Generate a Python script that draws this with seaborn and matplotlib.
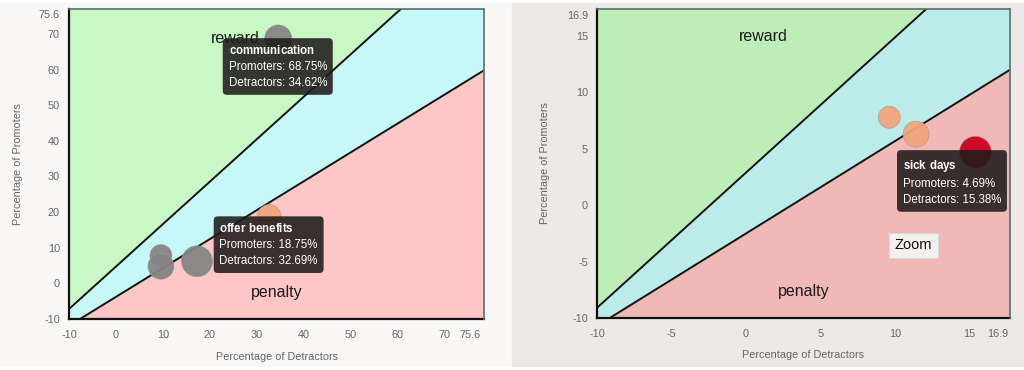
import numpy as np
import pandas as pd
import matplotlib.pyplot as plt
import seaborn as sns
from matplotlib.patches import Rectangle

# ---- data: left view (all topics) ----
left_names = ["communication", "offer benefits", "", "", ""]
left_detractors = [34.62, 32.69, 9.6, 9.6, 17.3]
left_promoters = [68.75, 18.75, 7.8, 4.8, 6.2]
left_bubble = [13.5, 12, 11, 13, 15.5]
left_state = ["other", "hover", "other", "other", "other"]
left_tips = [0, 1]
left_upper = (1.19, 4.7)     # slope, intercept of reward boundary
left_lower = (0.81, -3.8)    # slope, intercept of penalty boundary
left_xticks = [-10, 0, 10, 20, 30, 40, 50, 60, 70, 75.6]
left_yticks = [-10, 0, 10, 20, 30, 40, 50, 60, 70, 75.6]

# ---- data: right view (zoomed) ----
right_names = ["", "", "sick days"]
right_detractors = [9.6, 11.4, 15.38]
right_promoters = [7.8, 6.3, 4.69]
right_bubble = [11, 13, 16]
right_state = ["hover", "hover", "active"]
right_tips = [2]
right_upper = (1.2, 2.9)
right_lower = (0.82, -2.5)
right_xticks = [-10, -5, 0, 5, 10, 15, 16.9]
right_yticks = [-10, -5, 0, 5, 10, 15, 16.9]

sns.set_theme(style="white")
plt.rcParams['font.family'] = ['Liberation Sans', 'DejaVu Sans']
plt.rcParams['mathtext.fontset'] = 'custom'
plt.rcParams['mathtext.rm'] = 'Liberation Sans'
plt.rcParams['mathtext.bf'] = 'Liberation Sans:bold'

palette = {"other": "#858585", "hover": "#f2a57a", "active": "#cc0020"}

fig = plt.figure(figsize=(10.24, 3.7), dpi=100)
fig.patch.set_facecolor("white")
fig.patches.append(Rectangle((0, 0.011), 0.5, 0.981, transform=fig.transFigure,
                             color="#f9f8f7", zorder=-10))
fig.patches.append(Rectangle((0.5, 0.011), 0.5, 0.981, transform=fig.transFigure,
                             color="#ede9e6", zorder=-10))


def draw_panel(ax, names, det, pro, bubble, state, tips, upper, lower,
               xlim, ylim, xticks, yticks, fills, tip_offset, label_pos):
    xs = np.array(xlim)
    up = upper[0] * xs + upper[1]
    lo = lower[0] * xs + lower[1]
    ax.fill_between(xs, up, ylim[1] + 50, color=fills[0], lw=0, zorder=0)
    ax.fill_between(xs, lo, up, color=fills[1], lw=0, zorder=0)
    ax.fill_between(xs, ylim[0] - 50, lo, color=fills[2], lw=0, zorder=0)
    ax.plot(xs, up, color="#111111", lw=1.4, zorder=1)
    ax.plot(xs, lo, color="#111111", lw=1.4, zorder=1)

    ax.text(label_pos[0][0], label_pos[0][1], "reward", transform=ax.transAxes,
            ha="center", va="center", fontsize=11.5, color="#1a1a1a", zorder=2)
    ax.text(label_pos[1][0], label_pos[1][1], "penalty", transform=ax.transAxes,
            ha="center", va="center", fontsize=11.5, color="#1a1a1a", zorder=2)

    df = pd.DataFrame({"Detractors": det, "Promoters": pro,
                       "bubble": bubble, "state": state})
    sizes = {b: (2 * b * 0.72) ** 2 for b in set(bubble)}
    sns.scatterplot(data=df, x="Detractors", y="Promoters", hue="state",
                    size="bubble", sizes=sizes, palette=palette, alpha=0.95,
                    edgecolor="#9a9a9a", linewidth=0.4, legend=False, ax=ax,
                    zorder=3)

    for i in tips:
        txt = (r"$\mathbf{" + names[i].replace(" ", r"\ ") + "}$"
               + "\nPromoters: {:.2f}%\nDetractors: {:.2f}%".format(pro[i], det[i]))
        ax.annotate(txt, xy=(det[i], pro[i]), xytext=tip_offset,
                    textcoords="offset points", ha="left", va="top",
                    fontsize=8.3, color="white", linespacing=1.45,
                    bbox=dict(boxstyle="round,pad=0.5,rounding_size=0.35",
                              fc="#1f1b1b", ec="none", alpha=0.88),
                    zorder=5, annotation_clip=False)

    ax.set_xlim(xlim)
    ax.set_ylim(ylim)
    ax.set_xticks(xticks)
    ax.set_yticks(yticks)
    ax.set_xticklabels([("%g" % t) for t in xticks])
    ax.set_yticklabels([("%g" % t) for t in yticks])
    ax.tick_params(length=0, labelsize=7.8, labelcolor="#666666")
    ax.tick_params(axis="x", pad=8)
    ax.tick_params(axis="y", pad=6.5)
    ax.set_xlabel("Percentage of Detractors", fontsize=7.8, color="#666666")
    ax.set_ylabel("Percentage of Promoters", fontsize=7.8, color="#666666")
    ax.xaxis.set_label_coords(0.5, -0.105)
    ax.set_facecolor("none")
    for s in ["left", "bottom"]:
        ax.spines[s].set_color("#111111")
        ax.spines[s].set_linewidth(1.6)
    for s in ["top", "right"]:
        ax.spines[s].set_color("#557070")
        ax.spines[s].set_linewidth(1.2)
        ax.spines[s].set_zorder(6)


ax1 = fig.add_axes([69 / 1024, 51 / 370, 415 / 1024, 310 / 370])
draw_panel(ax1, left_names, left_detractors, left_promoters, left_bubble,
           left_state, left_tips, left_upper, left_lower,
           (-10, 78.5), (-10, 77), left_xticks, left_yticks,
           ("#c8f8c4", "#c7f8f8", "#fec6c6"), (-35.8, -4.0),
           [(0.40, 0.906), (0.50, 0.084)])
ax1.yaxis.set_label_coords(-0.111, 0.5)

ax2 = fig.add_axes([597 / 1024, 52 / 370, 413 / 1024, 309 / 370])
draw_panel(ax2, right_names, right_detractors, right_promoters, right_bubble,
           right_state, right_tips, right_upper, right_lower,
           (-10, 17.7), (-10, 17.4), right_xticks, right_yticks,
           ("#bdeeb8", "#bbecea", "#f0b9b8"), (-52.3, -4.0),
           [(0.402, 0.91), (0.50, 0.087)])
ax2.yaxis.set_label_coords(-0.114, 0.5)
ax2.text(0.766, 0.235, "Zoom", transform=ax2.transAxes, ha="center",
         va="center", fontsize=10.5, color="#111111", zorder=6,
         bbox=dict(boxstyle="square,pad=0.38", fc="#f3f0ee", ec="#dcd8d6", lw=0.8))

plt.savefig("out.png", dpi=100)
